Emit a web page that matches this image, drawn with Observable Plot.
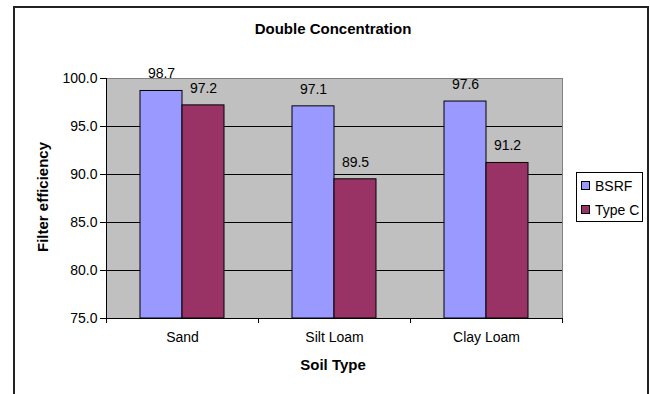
<!DOCTYPE html>
<html>
<head>
<meta charset="utf-8">
<script src="https://cdn.jsdelivr.net/npm/d3@7"></script>
<script src="https://cdn.jsdelivr.net/npm/@observablehq/plot@0.6"></script>
<style>
  html, body { margin: 0; padding: 0; background: #fff; overflow: hidden; }
  body { width: 650px; height: 394px; position: relative; font-family: "Liberation Sans", Arial, sans-serif; }
  #chart-border { position: absolute; left: 13px; top: 6px; width: 636px; height: 400px; border: 2px solid #222; box-sizing: border-box; }
  #plot { position: absolute; left: 0; top: 0; }
  .lbl { position: absolute; font-size: 15px; line-height: 15px; font-weight: bold; color: #000; white-space: nowrap; }
  #title { left: 333px; top: 21px; transform: translateX(-50%); }
  #xtitle { left: 333px; top: 357px; transform: translateX(-50%); }
  #ytitle { left: 42px; top: 197px; transform: translate(-50%, -50%) rotate(-90deg); }
  #legend { position: absolute; left: 576px; top: 172px; width: 67px; height: 50px; border: 1px solid #000; box-sizing: border-box; background: #fff; font-size: 14px; }
  .item { position: absolute; left: 4px; height: 16px; line-height: 16px; white-space: nowrap; }
  .sw { display: inline-block; width: 7px; height: 7px; border: 1px solid #000; margin-right: 5px; vertical-align: 1px; }
</style>
</head>
<body>
<div id="chart-border"></div>
<div id="plot"></div>
<div id="title" class="lbl">Double Concentration</div>
<div id="xtitle" class="lbl">Soil Type</div>
<div id="ytitle" class="lbl">Filter efficiency</div>
<div id="legend"></div>
<script>
// Filter efficiency (%) by soil type, double concentration
const soils = ["Sand", "Silt Loam", "Clay Loam"];
const series = ["BSRF", "Type C"];
const bsrf = [98.7, 97.1, 97.6];
const typeC = [97.2, 89.5, 91.2];
const seriesColors = ["#9999FF", "#993366"];
const yTicks = [75, 80, 85, 90, 95, 100];
const yMin = 75;
const yMax = 100;

const rows = soils.flatMap((soil, i) => [
  {soil, series: series[0], value: bsrf[i]},
  {soil, series: series[1], value: typeC[i]}
]);

const W = 650, H = 394;
const mL = 106, mR = 88, mT = 78, mB = 76;
const halfStep = (W - mL - mR) / soils.length / 2;
const plotBg = "#C0C0C0";

const plot = Plot.plot({
  width: W,
  height: H,
  marginLeft: mL,
  marginRight: mR,
  marginTop: mT,
  marginBottom: mB,
  style: {fontFamily: "'Liberation Sans', Arial, sans-serif", fontSize: "14px", color: "#000", background: "transparent"},
  fx: {domain: soils, padding: 0, label: null},
  x: {domain: series, paddingInner: 0, paddingOuter: 0.78, axis: null},
  y: {domain: [yMin, yMax], label: null},
  color: {domain: series, range: seriesColors},
  marks: [
    // grey plot area (stroked in the same grey so adjoining facets leave no seam)
    Plot.frame({fill: plotBg, stroke: plotBg}),
    Plot.gridY(yTicks.filter(t => t > yMin && t < yMax), {stroke: "#000", strokeOpacity: 1}),
    Plot.ruleY([yMax], {stroke: "#808080"}),
    Plot.barY(rows, {fx: "soil", x: "series", y1: yMin, y2: "value", fill: "series", stroke: "#000", strokeWidth: 1}),
    Plot.ruleY([yMin], {stroke: "#000"}),
    Plot.frame({anchor: "left", stroke: "#000", facetAnchor: "left"}),
    Plot.frame({anchor: "right", stroke: "#808080", facetAnchor: "right"}),
    Plot.text(rows, {fx: "soil", x: "series", y: "value", text: d => d.value.toFixed(1), dy: -17, fill: "#000"}),
    Plot.axisY(yTicks, {tickSize: 6, tickPadding: 3, tickFormat: d3.format(".1f"), label: null, stroke: "#000"}),
    Plot.axisFx({anchor: "bottom", tickSize: 0, tickPadding: 14, label: null}),
    // category boundary ticks below the axis
    Plot.axisFx({anchor: "bottom", tickSize: 5, tickFormat: () => "", label: null, dx: halfStep}),
    Plot.axisFx({anchor: "bottom", tickSize: 5, tickFormat: () => "", label: null, dx: -halfStep})
  ]
});
document.getElementById("plot").appendChild(plot);

// Legend entries
const legend = document.getElementById("legend");
series.forEach((s, i) => {
  const item = document.createElement("div");
  item.className = "item";
  item.style.top = (5 + i * 24) + "px";
  const sw = document.createElement("span");
  sw.className = "sw";
  sw.style.background = seriesColors[i];
  item.appendChild(sw);
  item.appendChild(document.createTextNode(s));
  legend.appendChild(item);
});
</script>
</body>
</html>
